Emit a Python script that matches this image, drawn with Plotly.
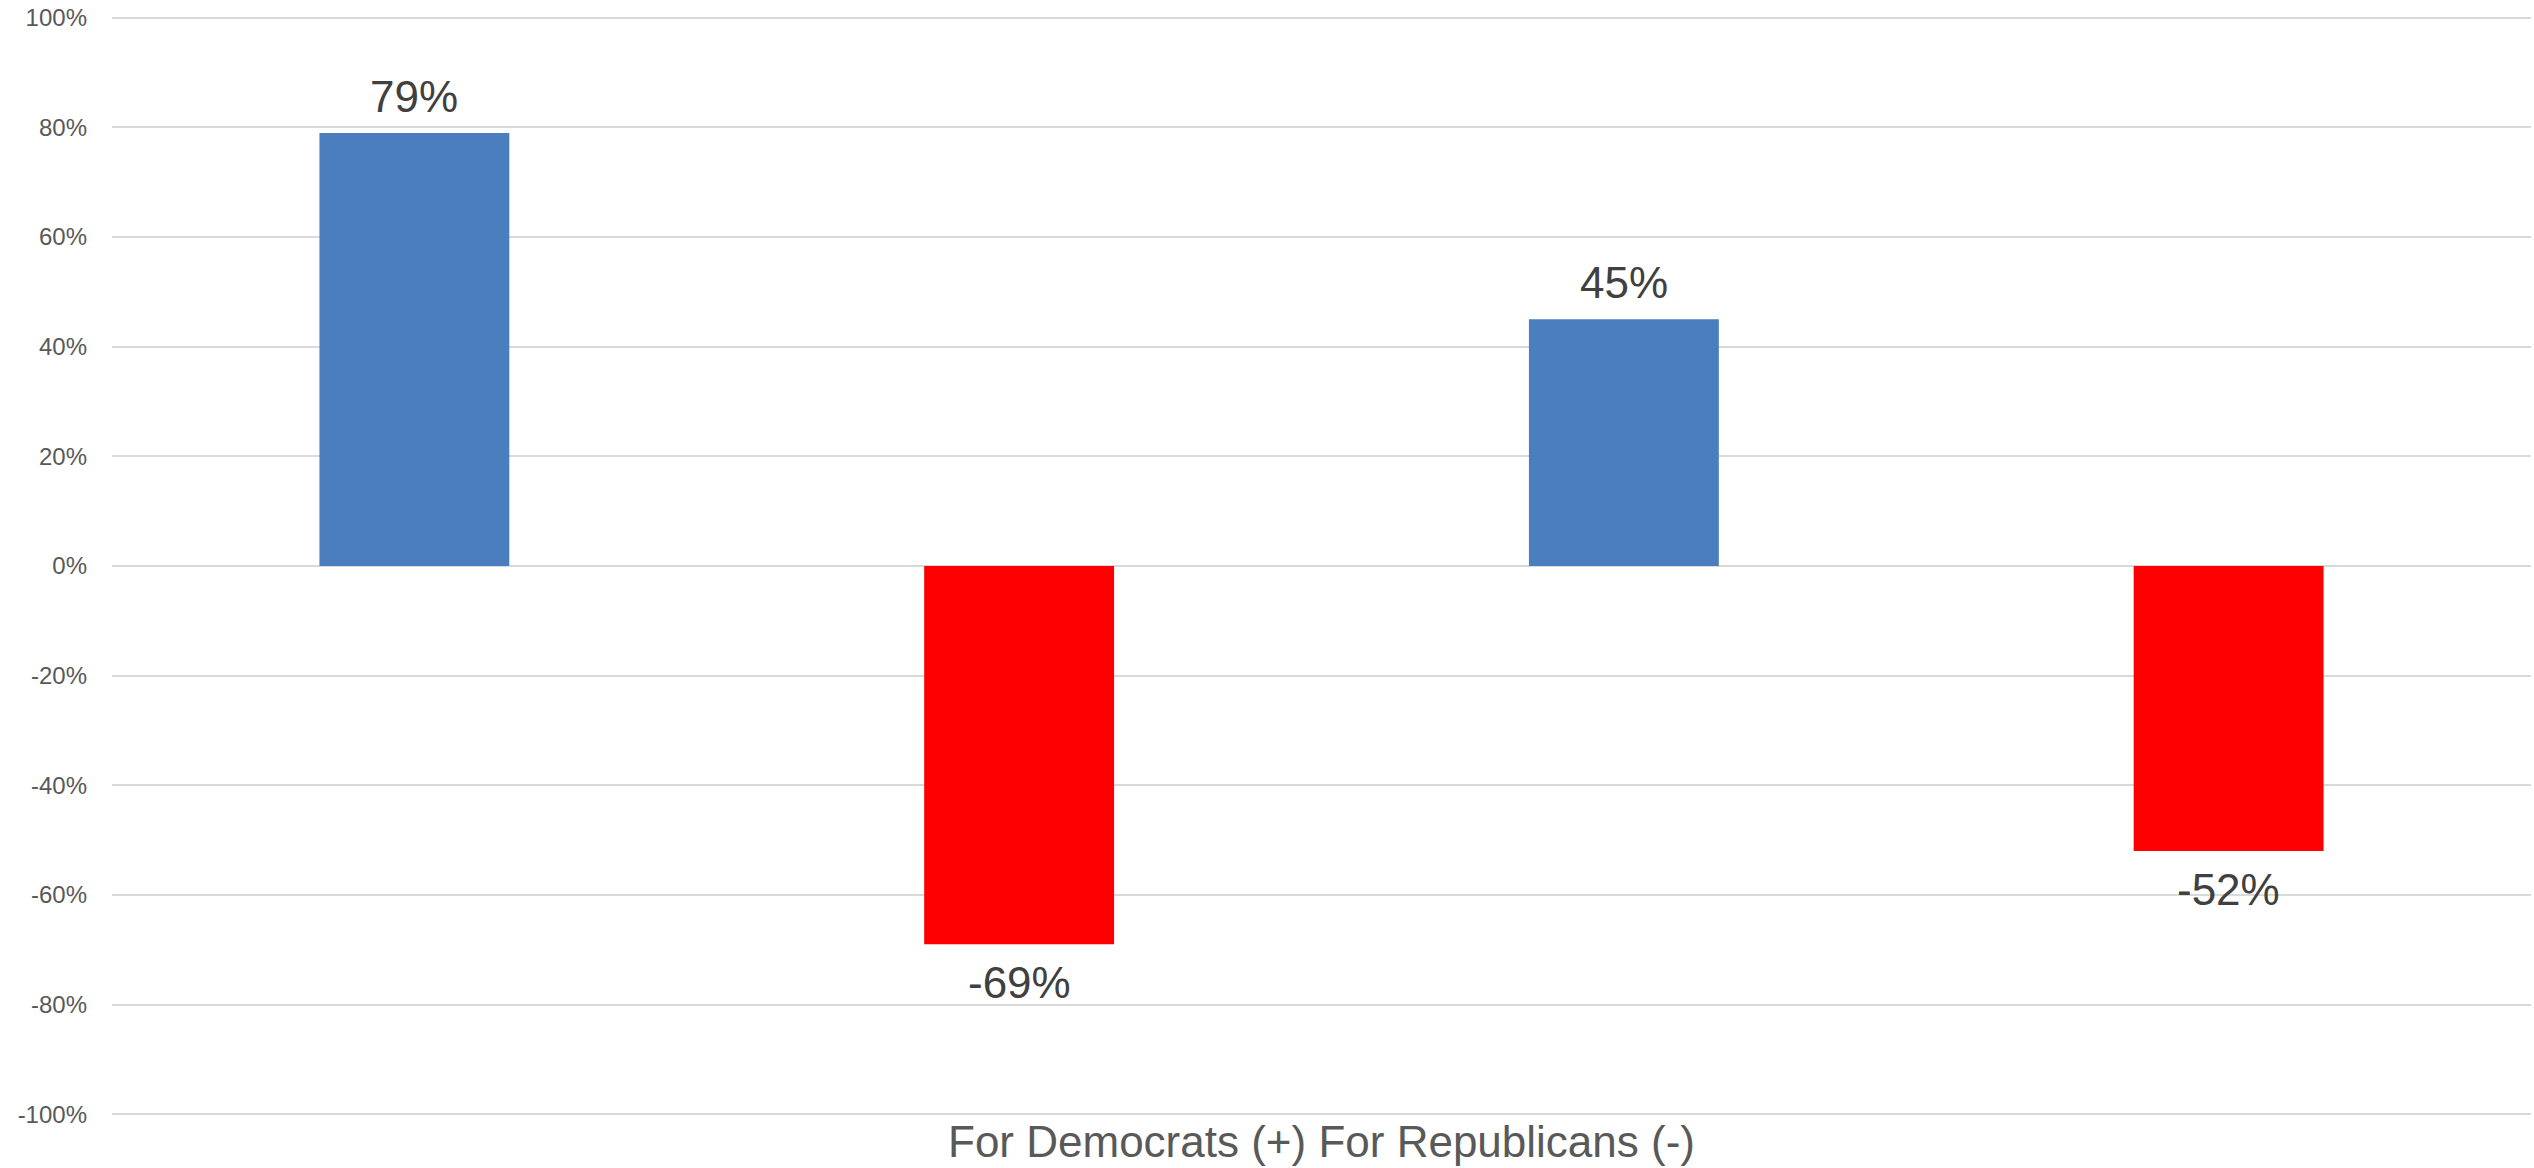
import plotly.graph_objects as go

categories = ["Group 1", "Group 2", "Group 3", "Group 4"]
values = [0.79, -0.69, 0.45, -0.52]
labels = ["79%", "-69%", "45%", "-52%"]
colors = ["#4A7EBF", "#FF0000", "#4A7EBF", "#FF0000"]
y_ticks = [1.0, 0.8, 0.6, 0.4, 0.2, 0.0, -0.2, -0.4, -0.6, -0.8, -1.0]
y_ticktext = ["100%", "80%", "60%", "40%", "20%", "0%", "-20%", "-40%", "-60%", "-80%", "-100%"]
x_title = "For Democrats (+) For Republicans (-)"

FONT = "Liberation Sans, Arial, Helvetica, sans-serif"

fig = go.Figure()
fig.add_trace(go.Bar(
    x=categories, y=values, marker=dict(color=colors, line=dict(width=0)),
    width=0.314, showlegend=False, hoverinfo="skip",
))

for c, v, t in zip(categories, values, labels):
    fig.add_annotation(
        x=c, y=v, text=t, showarrow=False,
        yanchor="bottom" if v >= 0 else "top",
        yshift=10 if v >= 0 else -12,
        font=dict(family=FONT, size=44, color="#404040"),
    )

fig.update_layout(
    width=2534, height=1168,
    margin=dict(l=112, r=3, t=15, b=51),
    plot_bgcolor="white", paper_bgcolor="white",
    font=dict(family=FONT, color="#595959"),
    xaxis=dict(
        showticklabels=False, showgrid=False, zeroline=False, showline=False,
        title=dict(text=x_title, font=dict(family=FONT, size=44, color="#595959"), standoff=9),
    ),
    yaxis=dict(
        range=[-1.005, 1.005], tickvals=y_ticks, ticktext=y_ticktext,
        showgrid=True, gridcolor="#D9D9D9", gridwidth=2,
        zeroline=True, zerolinecolor="#D9D9D9", zerolinewidth=2,
        showline=False, ticks="", ticklabelstandoff=24,
        tickfont=dict(family=FONT, size=24, color="#595959"),
    ),
)

fig.write_html(
    "out.html",
    config={"displayModeBar": False},
    post_script="document.body.style.margin='0';document.body.style.overflow='hidden';",
)
